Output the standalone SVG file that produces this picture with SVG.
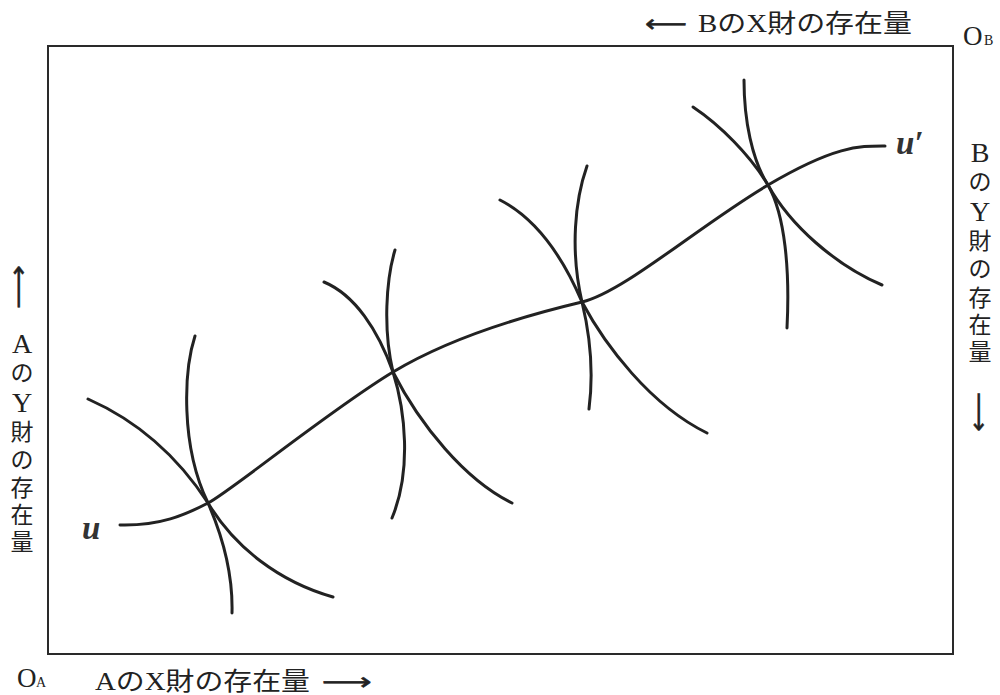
<svg xmlns="http://www.w3.org/2000/svg" width="1000" height="695" viewBox="0 0 1000 695">
<style>
.frame{fill:none;stroke:#2a2a2a;stroke-width:2}
.crv{fill:none;stroke:#222;stroke-width:3;stroke-linecap:round}
.lbl{font-family:"Liberation Serif","Noto Sans CJK JP",serif;font-size:25px;fill:#222}
.vl{font-family:"Liberation Serif","Noto Sans CJK JP",serif;font-size:23px;fill:#222;text-anchor:middle}
.lat{font-size:28px}
.arr{font-family:"DejaVu Sans",sans-serif;font-size:24px;fill:#222;stroke:#222;stroke-width:0.5}
.u{font-family:"Liberation Serif",serif;font-style:italic;font-weight:bold;font-size:33px;fill:#333}
.o{font-family:"Liberation Serif",serif;font-size:27px;fill:#222}
.sub{font-family:"Liberation Serif",serif;font-size:14px;fill:#222}
</style>
<rect id="box" class="frame" x="48" y="46" width="905" height="608"/>
<g id="labels">
  <text class="arr" x="645" y="32" textLength="42" lengthAdjust="spacingAndGlyphs">⟵</text>
  <text class="lbl" x="698" y="32" textLength="214" lengthAdjust="spacingAndGlyphs">BのX財の存在量</text>
  <text class="o" x="963" y="45">O</text><text class="sub" x="984" y="45">B</text>
  <text class="o" x="17" y="687">O</text><text class="sub" x="36" y="687">A</text>
  <text class="lbl" x="95" y="690" textLength="215" lengthAdjust="spacingAndGlyphs">AのX財の存在量</text>
  <text class="arr" x="322" y="690" textLength="50" lengthAdjust="spacingAndGlyphs">⟶</text>
  <text class="vl">
    <tspan class="lat" x="980" y="162">B</tspan><tspan x="980" y="190">の</tspan><tspan class="lat" x="980" y="221">Y</tspan><tspan x="980" y="249">財</tspan><tspan x="980" y="277">の</tspan><tspan x="980" y="306">存</tspan><tspan x="980" y="333">在</tspan><tspan x="980" y="360">量</tspan>
  </text>
  <text class="arr" x="0" y="0" text-anchor="middle" dominant-baseline="central" textLength="40" lengthAdjust="spacingAndGlyphs" transform="translate(979,412) rotate(90)">⟶</text>
  <text class="vl">
    <tspan class="lat" x="22" y="353">A</tspan><tspan x="22" y="381">の</tspan><tspan class="lat" x="22" y="412">Y</tspan><tspan x="22" y="440">財</tspan><tspan x="22" y="468">の</tspan><tspan x="22" y="496">存</tspan><tspan x="22" y="523">在</tspan><tspan x="22" y="550">量</tspan>
  </text>
  <text class="arr" x="0" y="0" text-anchor="middle" dominant-baseline="central" textLength="44" lengthAdjust="spacingAndGlyphs" transform="translate(19,287) rotate(90)">⟵</text>
</g>
<g id="contract-curve">
  <path class="crv" d="M120,525 C160,526 185,515 208,503 S330,410 393,372 S540,312 582,302 S700,225 768,185 S860,146 885,146"/>
  <text class="u" x="82" y="539">u</text>
  <text class="u" x="896" y="154">u′</text>
</g>
<g id="point1">
  <path class="crv" d="M88,399 C140,422 180,460 208,503 C235,548 280,582 333,597"/>
  <path class="crv" d="M195,336 C184,370 180,445 208,503 C222,535 233,575 232,613"/>
</g>
<g id="point2">
  <path class="crv" d="M324,282 C355,295 378,330 393,372 C420,425 465,480 512,503"/>
  <path class="crv" d="M395,250 C386,280 383,330 393,372 C405,410 412,470 392,518"/>
</g>
<g id="point3">
  <path class="crv" d="M500,200 C535,218 562,255 582,302 C605,345 650,405 707,433"/>
  <path class="crv" d="M587,166 C575,200 570,250 582,302 C590,335 594,370 589,409"/>
</g>
<g id="point4">
  <path class="crv" d="M693,107 C720,125 750,155 768,185 C790,225 835,265 882,285"/>
  <path class="crv" d="M744,80 C744,120 752,160 768,185 C785,215 790,270 787,328"/>
</g>
</svg>
